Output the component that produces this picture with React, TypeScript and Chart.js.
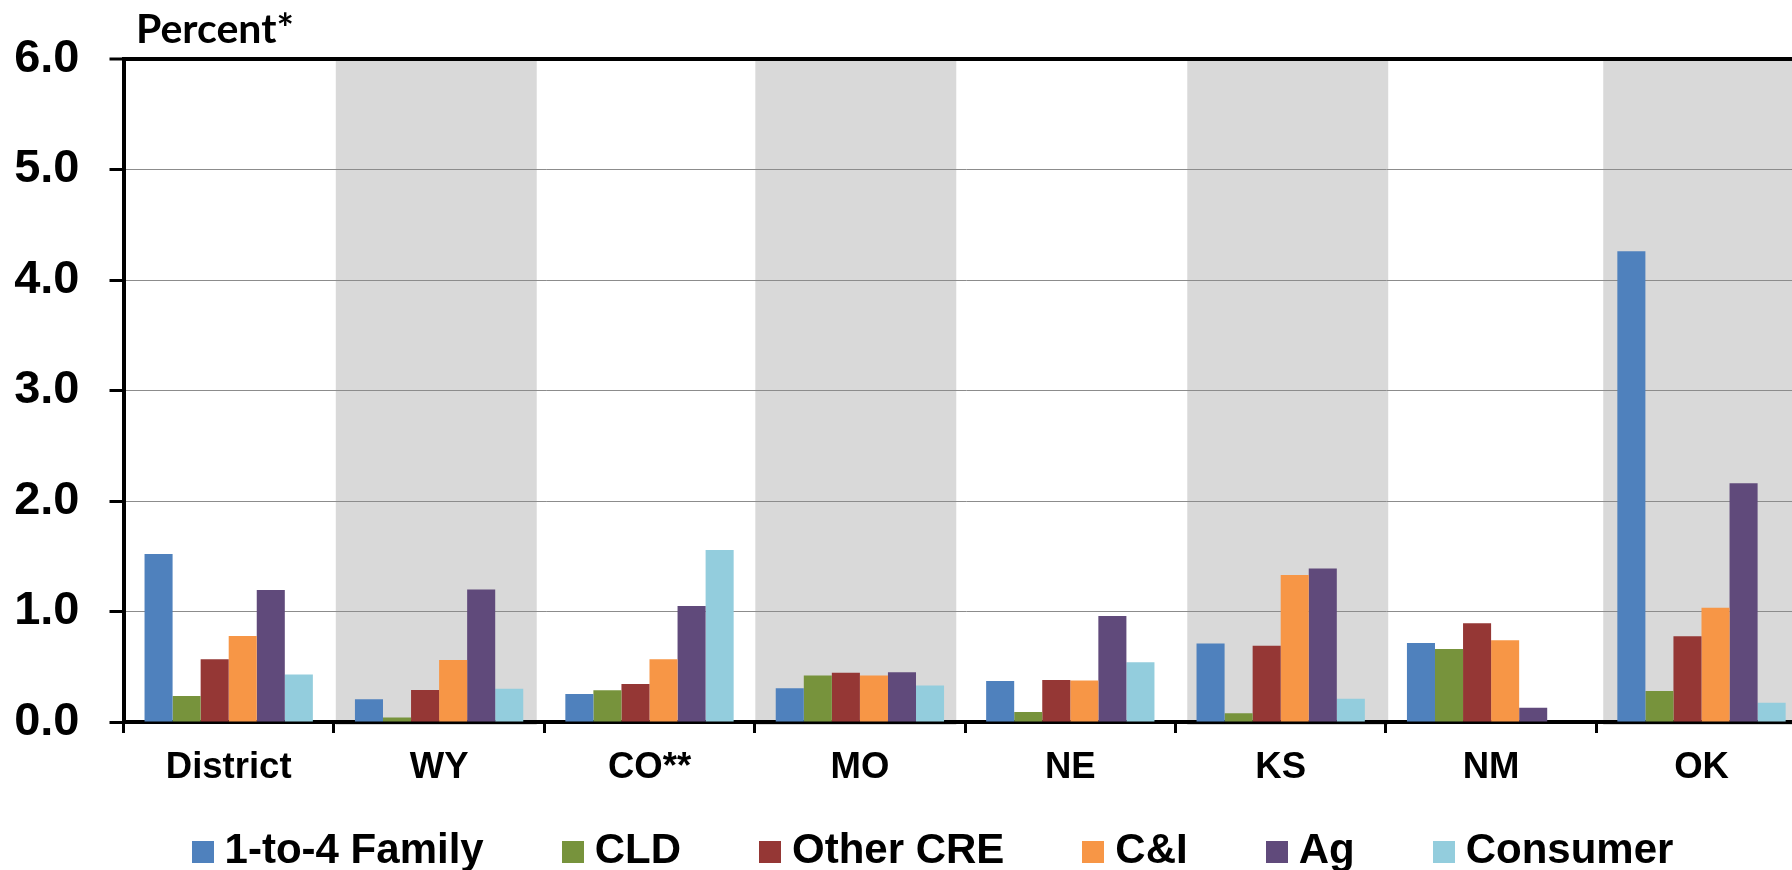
import React, { useEffect, useRef } from 'react';
import { Chart, registerables } from 'chart.js';

Chart.register(...registerables);

// ---- data ----
const categories = ['District', 'WY', 'CO**', 'MO', 'NE', 'KS', 'NM', 'OK'];
const family14 = [1.52, 0.205, 0.253, 0.305, 0.37, 0.71, 0.716, 4.26];
const cld = [0.235, 0.04, 0.287, 0.42, 0.09, 0.08, 0.66, 0.28];
const otherCre = [0.567, 0.29, 0.344, 0.446, 0.38, 0.69, 0.893, 0.776];
const cAndI = [0.778, 0.56, 0.567, 0.42, 0.375, 1.33, 0.74, 1.035];
const ag = [1.195, 1.2, 1.05, 0.45, 0.96, 1.39, 0.13, 2.16];
const consumer = [0.43, 0.3, 1.556, 0.33, 0.54, 0.21, 0, 0.175];
const seriesNames = ['1-to-4 Family', 'CLD', 'Other CRE', 'C&I', 'Ag', 'Consumer'];
const yTicks = [0, 1, 2, 3, 4, 5, 6];
const shadedCategories = ['WY', 'MO', 'KS', 'OK'];
const unitText = 'Percent*';

// ---- styles ----
const seriesColors = ['#4F81BD', '#77933C', '#953735', '#F79646', '#604A7B', '#93CDDD'];
const FONT = '"Liberation Sans", Arial, sans-serif';
const SWATCH = 22;

function makeSwatch(color: string): HTMLCanvasElement {
  const c = document.createElement('canvas');
  c.width = SWATCH;
  c.height = SWATCH;
  const g = c.getContext('2d')!;
  g.fillStyle = color;
  g.fillRect(0, 0, SWATCH, SWATCH);
  return c;
}

const bandPlugin = {
  id: 'bands',
  beforeDraw(chart: any, _args: any, opts: any) {
    const { ctx, chartArea, scales } = chart;
    const x = scales.x;
    const labels: string[] = chart.data.labels;
    const cw = (x.right - x.left) / labels.length;
    ctx.save();
    ctx.fillStyle = opts.color;
    opts.categories.forEach((c: string, i: number) => {
      const idx = labels.indexOf(c);
      if (idx < 0) return;
      const start = x.getPixelForValue(idx) - cw / 2 + opts.offsets[i] * cw;
      ctx.fillRect(start, chartArea.top, opts.width * cw, chartArea.bottom - chartArea.top + 3);
    });
    ctx.restore();
  },
};

const unitPlugin = {
  id: 'unitLabel',
  afterDraw(chart: any, _args: any, opts: any) {
    const { ctx, chartArea } = chart;
    ctx.save();
    ctx.font = opts.font;
    ctx.fillStyle = '#000';
    ctx.textAlign = 'left';
    ctx.textBaseline = 'alphabetic';
    ctx.fillText(opts.text, chartArea.left + opts.dx, chartArea.top + opts.dy);
    ctx.restore();
  },
};

const legendShiftPlugin = {
  id: 'legendShift',
  afterLayout(chart: any, _args: any, opts: any) {
    const l = chart.legend;
    if (!l) return;
    l.left += opts.dx;
    l.right += opts.dx;
    l.top += opts.dy;
    l.bottom += opts.dy;
  },
};

export default function App() {
  const ref = useRef<HTMLCanvasElement | null>(null);

  useEffect(() => {
    if (!ref.current) return;
    const seriesValues = [family14, cld, otherCre, cAndI, ag, consumer];
    const swatches = seriesColors.map(makeSwatch);
    const chart = new Chart(ref.current, {
      type: 'bar',
      data: {
        labels: categories,
        datasets: seriesNames.map((name, i) => ({
          label: name,
          data: seriesValues[i],
          backgroundColor: seriesColors[i],
          borderWidth: 0,
          barPercentage: 1,
          categoryPercentage: 0.8,
        })),
      },
      plugins: [bandPlugin, unitPlugin, legendShiftPlugin],
      options: {
        responsive: false,
        maintainAspectRatio: false,
        animation: false,
        devicePixelRatio: 1,
        layout: { padding: { left: 0, right: 23.3, top: 59, bottom: 8 } },
        font: { family: FONT },
        scales: {
          x: {
            offset: true,
            grid: {
              offset: true,
              drawOnChartArea: false,
              drawTicks: true,
              tickLength: 11,
              tickWidth: 3,
              tickColor: '#000',
              color: '#000',
            },
            border: { color: '#000', width: 4 },
            ticks: {
              font: { family: FONT, size: 36.5, weight: 'bold' },
              color: '#000',
              padding: 13,
              maxRotation: 0,
              autoSkip: false,
            },
            afterFit: (s: any) => {
              s.height = 60;
            },
          },
          y: {
            min: 0,
            max: 6,
            afterBuildTicks: (s: any) => {
              s.ticks = yTicks.map((v) => ({ value: v }));
            },
            ticks: {
              callback: (v: any) => Number(v).toFixed(1),
              font: { family: FONT, size: 47, weight: 'bold' },
              color: '#000',
              padding: 30,
            },
            grid: {
              color: (c: any) =>
                c.tick && c.tick.value === 6 ? '#000' : c.tick && c.tick.value === 0 ? 'rgba(0,0,0,0)' : '#8c8c8c',
              lineWidth: (c: any) => (c.tick && c.tick.value === 6 ? 4 : 1),
              drawTicks: true,
              tickLength: 14,
              tickWidth: 3,
              tickColor: '#000',
            },
            border: { color: '#000', width: 4 },
            afterFit: (s: any) => {
              s.width = 123.5;
            },
          },
        },
        plugins: {
          legend: {
            position: 'bottom',
            labels: {
              usePointStyle: true,
              pointStyleWidth: 2,
              boxWidth: 22,
              boxHeight: 22,
              padding: 88,
              color: '#000',
              font: { family: FONT, size: 42, weight: 'bold' },
              generateLabels: (ch: any) => {
                const items = Chart.defaults.plugins.legend.labels.generateLabels(ch);
                items.forEach((it: any, i: number) => {
                  it.pointStyle = swatches[i];
                });
                return items;
              },
            },
          },
          tooltip: { enabled: false },
          bands: {
            color: '#D9D9D9',
            categories: shadedCategories,
            offsets: [0.009, 0.003, 0.056, 0.033],
            width: 0.955,
          },
          unitLabel: {
            text: unitText,
            font: 'bold 41px Lato, "Open Sans", sans-serif',
            dx: 12.5,
            dy: -16.3,
          },
          legendShift: { dx: 34.15, dy: -39.5 },
        } as any,
      } as any,
    });
    return () => chart.destroy();
  }, []);

  return (
    <div
      style={{
        position: 'fixed',
        left: 0,
        top: 0,
        width: 1792,
        height: 870,
        overflow: 'hidden',
        background: '#fff',
      }}
    >
      <canvas ref={ref} width={1830} height={930} style={{ display: 'block', width: 1830, height: 930 }} />
    </div>
  );
}
